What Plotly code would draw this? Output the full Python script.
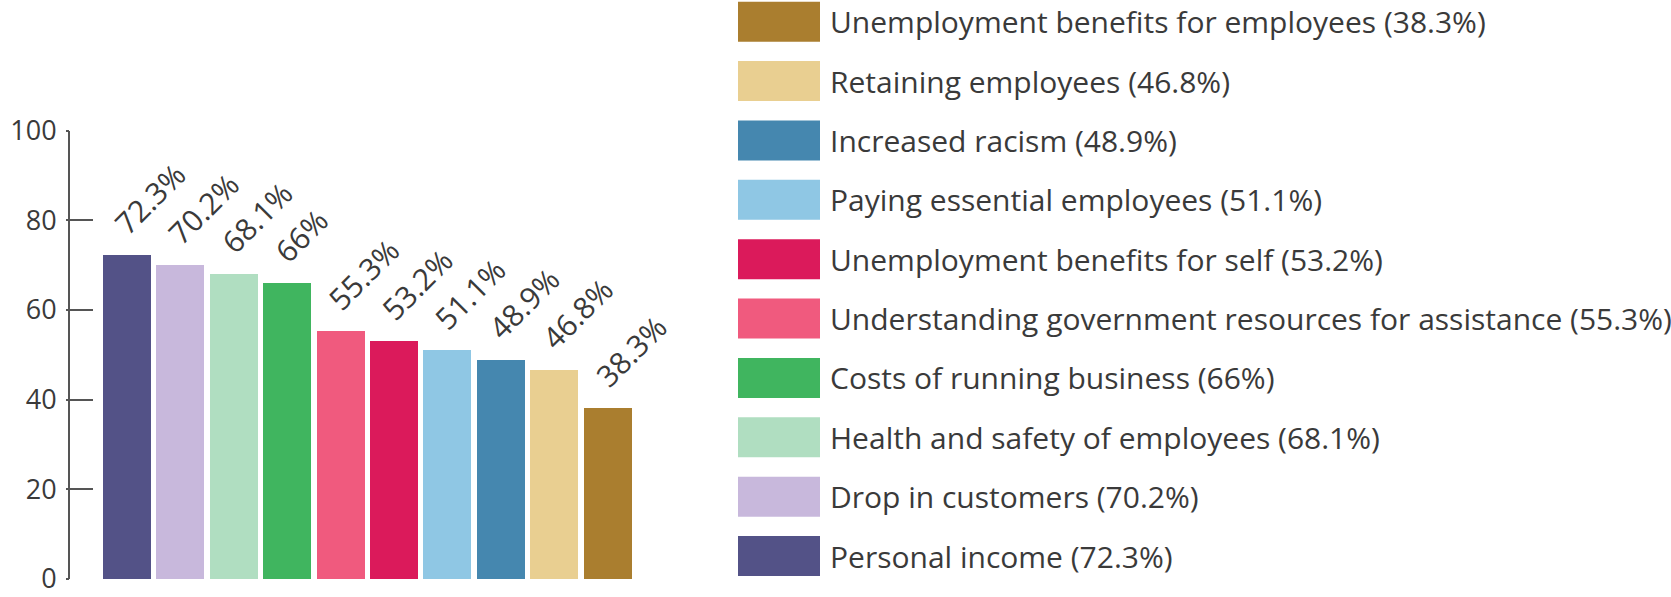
import plotly.graph_objects as go

# Business concerns and share of respondents (%)
categories = [
    "Personal income",
    "Drop in customers",
    "Health and safety of employees",
    "Costs of running business",
    "Understanding government resources for assistance",
    "Unemployment benefits for self",
    "Paying essential employees",
    "Increased racism",
    "Retaining employees",
    "Unemployment benefits for employees",
]
values = [72.3, 70.2, 68.1, 66, 55.3, 53.2, 51.1, 48.9, 46.8, 38.3]
colors = [
    "#535287", "#C8B8DC", "#B0DEC1", "#40B55F", "#F05A7E",
    "#DB1A5B", "#8FC7E4", "#4587AF", "#E9CF91", "#AA7E2F",
]
y_ticks = [0, 20, 40, 60, 80, 100]

W, H = 1671, 597
FONT = "'Open Sans', Lato, sans-serif"
TEXT = "#3a3a3a"
AXIS = "#555555"


def fmt(v):
    return f"{v:g}%"


xs = list(range(len(values)))

fig = go.Figure()
fig.add_trace(go.Bar(
    x=xs, y=values, width=0.9,
    marker=dict(color=colors, line=dict(width=0)),
    hovertext=categories, showlegend=False,
))

# Rotated value labels above each bar
for x, v in zip(xs, values):
    fig.add_annotation(
        x=x, y=v, xref="x", yref="y", text=fmt(v), showarrow=False,
        textangle=-45, xanchor="left", yanchor="bottom",
        xshift=-24, yshift=9,
        font=dict(family=FONT, size=30, color=TEXT),
    )

# Key: large colour swatches with labels, last category on top
top0, pitch, sw_h = 1.7, 59.37, 40
for row, idx in enumerate(reversed(range(len(values)))):
    y0 = top0 + row * pitch
    fig.add_shape(
        type="rect", xref="paper", yref="paper",
        x0=738 / W, x1=820 / W,
        y0=1 - (y0 + sw_h) / H, y1=1 - y0 / H,
        fillcolor=colors[idx], line=dict(width=0),
    )
    fig.add_annotation(
        x=828 / W, y=1 - (y0 + sw_h / 2) / H, xref="paper", yref="paper",
        text=f"{categories[idx]} ({fmt(values[idx])})", showarrow=False,
        xanchor="left", yanchor="middle",
        font=dict(family=FONT, size=30, color=TEXT),
    )

x_dom = [70 / W, 639.6 / W]
y_dom = [(H - 579) / H, (H - 130.5) / H]

fig.update_layout(
    width=W, height=H,
    margin=dict(l=0, r=0, t=0, b=0),
    paper_bgcolor="white", plot_bgcolor="white",
    bargap=0,
    xaxis=dict(
        domain=x_dom, range=[-1.067, 9.6],
        showgrid=False, zeroline=False, showline=False,
        showticklabels=False, ticks="",
    ),
    yaxis=dict(
        domain=y_dom, range=[0, 100],
        tickvals=y_ticks, ticktext=[str(t) for t in y_ticks],
        showgrid=False, zeroline=False,
        showline=True, linecolor=AXIS, linewidth=2,
        ticks="inside", ticklen=23, tickwidth=2, tickcolor=AXIS,
        ticklabelstandoff=6, ticklabeloverflow="allow",
        tickfont=dict(family=FONT, size=27, color=TEXT),
        automargin=False,
    ),
    yaxis2=dict(
        domain=y_dom, range=[0, 100], overlaying="y", anchor="x",
        tickvals=y_ticks, showticklabels=False,
        showgrid=False, zeroline=False, showline=False,
        ticks="outside", ticklen=3, tickwidth=2, tickcolor=AXIS,
        automargin=False,
    ),
)
# Invisible trace so the overlay axis carries its short outer ticks
fig.add_trace(go.Scatter(x=[None], y=[None], yaxis="y2", showlegend=False))

fig.write_html("out.html")
